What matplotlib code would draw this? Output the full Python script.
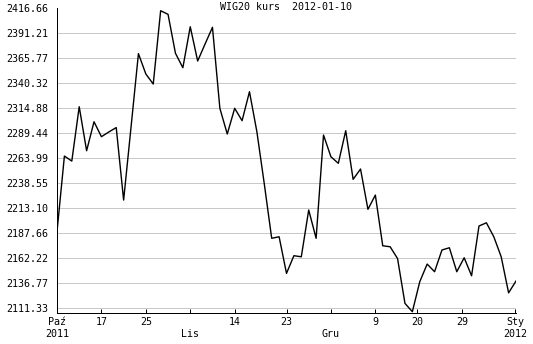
import matplotlib
matplotlib.use("Agg")
import matplotlib.pyplot as plt

# WIG20 closing values, one per session (index-based x axis)
values = [
    2189.3, 2266.3, 2261.2, 2316.5, 2271.7, 2301.2, 2286.0, 2290.8, 2295.3, 2221.5,
    2295.7, 2370.5, 2349.8, 2339.6, 2414.2, 2410.5, 2370.9, 2356.2, 2397.9, 2363.0,
    2380.3, 2397.3, 2314.9, 2288.7, 2314.9, 2302.3, 2331.8, 2291.0, 2238.0, 2182.6,
    2184.2, 2146.9, 2164.9, 2163.8, 2211.4, 2182.6, 2287.7, 2265.6, 2258.9, 2292.1,
    2242.6, 2253.1, 2212.1, 2226.6, 2175.0, 2174.0, 2162.0, 2116.4, 2107.9, 2138.4,
    2156.4, 2148.6, 2170.7, 2173.0, 2148.6, 2162.8, 2144.5, 2195.1, 2198.4, 2184.2,
    2163.8, 2127.1, 2139.1,
]

x_tick_pos = [0, 6, 12, 18, 24, 31, 37, 43, 48.6, 54.7, 61.9]
x_tick_labels = ["Paź\n2011", "17", "25", "\nLis", "14", "23", "\nGru", "9", "20", "29", "Sty\n2012"]

y_ticks = [2111.33, 2136.77, 2162.22, 2187.66, 2213.10, 2238.55, 2263.99,
           2289.44, 2314.88, 2340.32, 2365.77, 2391.21, 2416.66]

title = "WIG20 kurs  2012-01-10"

FONT = ["DejaVu Sans Mono"]
FS = 7.2

fig = plt.figure(figsize=(5.33, 3.44), dpi=100)
ax = fig.add_axes([57 / 533, 1 - 312.7 / 344, (516 - 57) / 533, (312.7 - 8.3) / 344])

x = list(range(len(values)))
ax.plot(x, values, color="black", linewidth=1.0, zorder=3)

ax.set_xlim(0, len(values) - 1)
ax.set_ylim(2106.9, 2416.66)

ax.set_yticks(y_ticks)
ax.set_yticklabels([f"{v:.2f}" for v in y_ticks], family=FONT, fontsize=FS)
ax.set_xticks(x_tick_pos)
ax.set_xticklabels(x_tick_labels, family=FONT, fontsize=FS, linespacing=1.25)

ax.tick_params(axis="y", length=0, pad=6.3, colors="black")
ax.tick_params(axis="x", direction="in", length=3, width=0.72, pad=3, colors="black")

ax.grid(axis="y", color="#c8c8c8", linewidth=0.72)
ax.yaxis.get_gridlines()[-1].set_visible(False)
ax.set_axisbelow(True)

for s in ["top", "right"]:
    ax.spines[s].set_visible(False)
for s in ["left", "bottom"]:
    ax.spines[s].set_linewidth(0.72)
    ax.spines[s].set_color("black")

fig.text(285.5 / 533, 1 - 2 / 344, title, ha="center", va="top", family=FONT, fontsize=FS)

fig.savefig("out.png", dpi=100, facecolor="white")
